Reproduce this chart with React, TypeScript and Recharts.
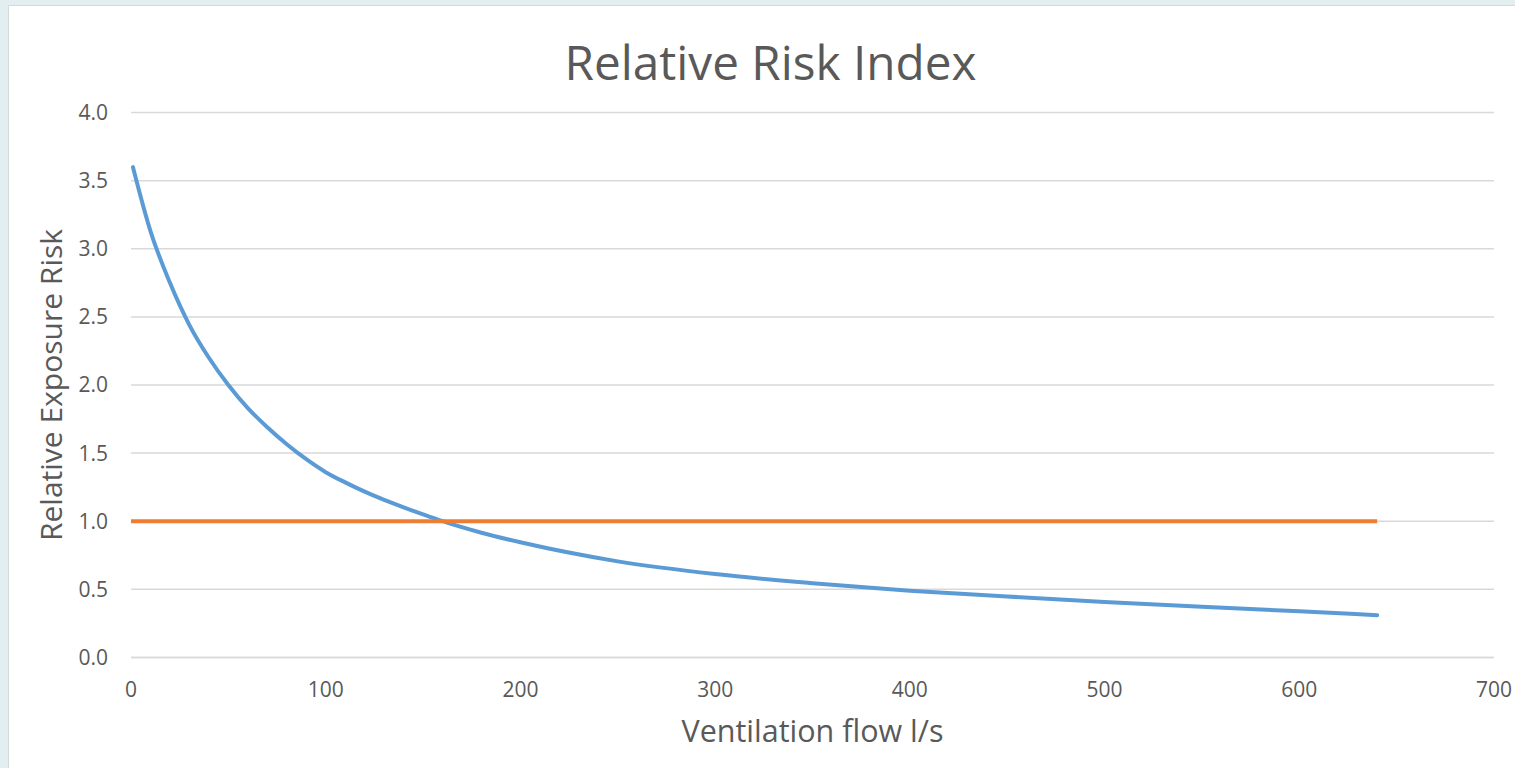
import React from 'react';
import { LineChart, Line, XAxis, YAxis, CartesianGrid } from 'recharts';

const flowValues = [1, 10, 20, 30, 40, 50, 60, 70, 80, 90, 100, 110, 120, 130, 140, 150, 160, 180, 200, 250, 300, 350, 400, 450, 500, 550, 600, 640];
const riskValues = [3.6, 3.13, 2.75, 2.44, 2.2, 2.0, 1.83, 1.69, 1.565, 1.455, 1.36, 1.285, 1.217, 1.157, 1.102, 1.05, 1.0, 0.915, 0.845, 0.705, 0.612, 0.545, 0.49, 0.447, 0.407, 0.371, 0.338, 0.31];
const baselineFlow = [0, 640];
const baselineRisk = [1.0, 1.0];
const xTicks = [0, 100, 200, 300, 400, 500, 600, 700];
const yTicks = [0, 0.5, 1.0, 1.5, 2.0, 2.5, 3.0, 3.5, 4.0];

const riskData = flowValues.map((x, i) => ({ x, y: riskValues[i] }));
const baseData = baselineFlow.map((x, i) => ({ x, y: baselineRisk[i] }));

const FONT = "'Open Sans', sans-serif";
const TEXT = '#595959';

const XLabel = (props: any) => {
  const vb = props.viewBox;
  return (
    <text x={vb.x + vb.width / 2} y={742} textAnchor="middle" fill={TEXT} fontSize={30.5} fontFamily={FONT}>
      Ventilation flow l/s
    </text>
  );
};

const YLabel = (props: any) => {
  const vb = props.viewBox;
  const cy = vb.y + vb.height / 2;
  return (
    <text x={62} y={cy} transform={`rotate(-90, 62, ${cy})`} textAnchor="middle" fill={TEXT} fontSize={30} fontFamily={FONT}>
      Relative Exposure Risk
    </text>
  );
};

export default function App() {
  return (
    <div style={{ position: 'absolute', left: 0, top: 0, width: 1515, height: 768, background: '#e3eef0', overflow: 'hidden' }}>
      <div style={{ position: 'absolute', left: 8, top: 5, width: 1520, height: 780, background: '#ffffff', borderLeft: '1.5px solid #d4d9da', borderTop: '1.5px solid #d4d9da' }} />
      <div style={{ position: 'absolute', left: 0, top: 0 }}>
        <LineChart
          width={1515}
          height={768}
          margin={{ top: 112.6, right: 21, bottom: 80.6, left: 71 }}
          style={{ fontFamily: FONT }}
        >
          <CartesianGrid horizontal={true} vertical={false} stroke="#d9d9d9" strokeWidth={1.5} />
          <XAxis
            dataKey="x"
            type="number"
            domain={[0, 700]}
            ticks={xTicks}
            allowDuplicatedCategory={false}
            height={30}
            tickLine={false}
            tickSize={0}
            tickMargin={25}
            axisLine={{ stroke: '#d9d9d9', strokeWidth: 1.5 }}
            tick={{ fill: TEXT, fontSize: 21, fontFamily: FONT }}
            label={<XLabel />}
          />
          <YAxis
            type="number"
            domain={[0, 4]}
            ticks={yTicks}
            width={60}
            tickLine={false}
            axisLine={false}
            tickSize={0}
            tickMargin={23}
            tickFormatter={(v: number) => v.toFixed(1)}
            tick={{ fill: TEXT, fontSize: 21, fontFamily: FONT }}
            label={<YLabel />}
          />
          <Line
            data={riskData}
            dataKey="y"
            type="monotone"
            stroke="#5b9bd5"
            strokeWidth={4}
            strokeLinecap="round"
            strokeLinejoin="round"
            dot={false}
            activeDot={false}
            isAnimationActive={false}
          />
          <Line
            data={baseData}
            dataKey="y"
            type="linear"
            stroke="#ed7d31"
            strokeWidth={4}
            dot={false}
            activeDot={false}
            isAnimationActive={false}
          />
        </LineChart>
      </div>
      <svg width={1515} height={768} style={{ position: 'absolute', left: 0, top: 0, pointerEvents: 'none' }}>
        <text x={770.5} y={80} textAnchor="middle" fill={TEXT} fontSize={47.7} fontFamily={FONT}>
          Relative Risk Index
        </text>
      </svg>
    </div>
  );
}
